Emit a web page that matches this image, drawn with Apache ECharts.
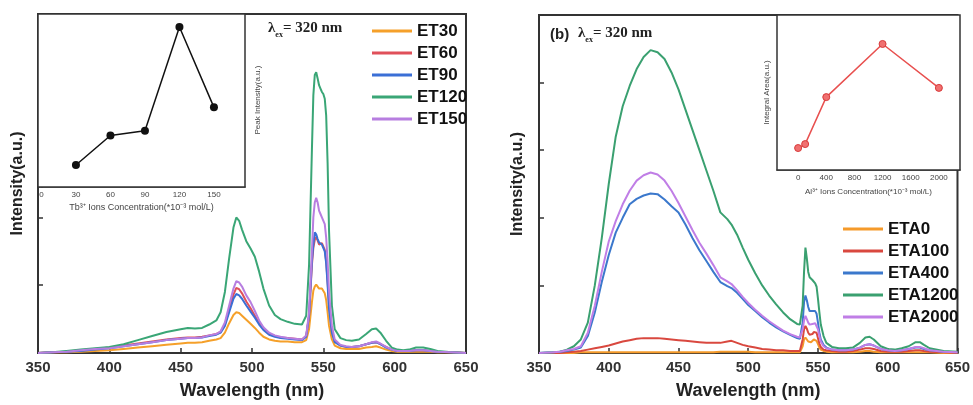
<!DOCTYPE html>
<html><head><meta charset="utf-8">
<script src="https://cdn.jsdelivr.net/npm/echarts@6/dist/echarts.min.js"></script>
<style>html,body{margin:0;padding:0;background:#fff}#c{width:973px;height:405px}</style>
</head><body><div id="c"></div>
<script>
// ---------- Panel (a) spectra ----------
const waveA = [350,360,370,380,390,400,410,420,430,440,
  450,455,460,465,470,475,478,
  481,484,487,489,491,493,496,499,502,505,508,
  512,516,520,525,530,535,538,
  540,542,543,544,545,546,547,548,549,550,551,552,553,554,556,
  558,562,566,570,575,580,584,587,590,
  594,598,602,606,610,615,620,625,630,640,650];
const et30 = [0,0.01,0.01,0.02,0.03,0.04,0.06,0.08,0.1,0.12,
  0.14,0.15,0.15,0.16,0.18,0.2,0.22,
  0.3,0.44,0.56,0.6,0.59,0.55,0.49,0.43,0.37,0.3,0.24,
  0.2,0.18,0.17,0.17,0.16,0.16,0.19,
  0.35,0.75,0.92,0.98,1.01,0.98,0.95,0.95,0.95,0.93,0.88,0.78,0.6,0.4,0.2,
  0.11,0.07,0.06,0.06,0.06,0.08,0.09,0.1,0.08,
  0.05,0.03,0.02,0.02,0.02,0.02,0.02,0.02,0.01,0.01,0];
const et60 = [0,0.01,0.02,0.04,0.06,0.08,0.11,0.14,0.17,0.2,
  0.22,0.23,0.23,0.24,0.26,0.28,0.31,
  0.42,0.64,0.86,0.96,0.94,0.88,0.76,0.66,0.55,0.44,0.35,
  0.28,0.25,0.23,0.22,0.21,0.2,0.25,
  0.55,1.3,1.55,1.67,1.71,1.66,1.6,1.62,1.62,1.6,1.52,1.35,1.05,0.7,0.32,
  0.17,0.11,0.09,0.09,0.1,0.13,0.15,0.16,0.13,
  0.09,0.05,0.03,0.03,0.03,0.04,0.04,0.03,0.02,0.01,0];
const et90 = [0,0.01,0.02,0.03,0.05,0.07,0.1,0.13,0.16,0.19,
  0.21,0.22,0.22,0.23,0.25,0.27,0.3,
  0.4,0.6,0.8,0.87,0.85,0.8,0.7,0.61,0.52,0.42,0.34,
  0.27,0.24,0.22,0.21,0.2,0.19,0.24,
  0.55,1.35,1.6,1.78,1.75,1.68,1.63,1.62,1.6,1.58,1.5,1.32,1.0,0.65,0.3,
  0.16,0.11,0.09,0.09,0.1,0.13,0.15,0.16,0.13,
  0.08,0.05,0.03,0.03,0.03,0.04,0.04,0.03,0.02,0.01,0];
const et120 = [0,0.01,0.03,0.05,0.07,0.09,0.13,0.19,0.25,0.31,
  0.35,0.37,0.36,0.37,0.42,0.48,0.6,
  0.9,1.4,1.85,2.0,1.95,1.82,1.65,1.54,1.42,1.2,0.95,
  0.7,0.56,0.5,0.46,0.43,0.42,0.55,
  1.3,3.0,3.8,4.1,4.14,4.05,3.95,3.9,3.85,3.82,3.75,3.5,2.8,1.8,0.7,
  0.35,0.22,0.19,0.18,0.2,0.28,0.35,0.36,0.3,
  0.18,0.08,0.05,0.04,0.05,0.08,0.08,0.06,0.03,0.01,0];
const et150 = [0,0.01,0.02,0.04,0.06,0.07,0.1,0.13,0.16,0.19,
  0.21,0.22,0.22,0.23,0.26,0.28,0.32,
  0.45,0.7,0.95,1.06,1.04,0.98,0.85,0.75,0.62,0.48,0.38,
  0.3,0.26,0.24,0.22,0.21,0.2,0.26,
  0.6,1.5,2.0,2.22,2.29,2.22,2.1,2.05,2.0,1.98,1.9,1.7,1.35,0.9,0.4,
  0.2,0.12,0.1,0.09,0.1,0.13,0.16,0.17,0.14,
  0.09,0.05,0.03,0.03,0.03,0.04,0.04,0.03,0.02,0.01,0];

// ---------- Panel (b) spectra ----------
const waveB = [350,360,365,370,375,380,385,390,395,400,
  405,410,415,420,425,430,435,440,445,450,
  455,460,465,470,475,480,485,488,
  492,496,500,505,510,515,520,525,530,535,537,
  539,540,541,542,543,544,545,546,547,548,549,550,551,552,
  554,556,560,565,570,575,580,584,587,590,
  595,600,605,610,615,620,623,626,630,640,650];
const eta0 = [0,0,0,0,0,0.01,0.01,0.01,0.01,0.01,
  0.01,0.01,0.01,0.01,0.01,0.01,0.01,0.01,0.01,0.01,
  0.01,0.01,0.01,0.01,0.01,0.02,0.02,0.02,
  0.02,0.02,0.02,0.01,0.01,0.01,0.01,0.01,0.01,0.01,0.01,
  0.1,0.2,0.23,0.2,0.17,0.16,0.16,0.18,0.2,0.2,0.18,0.13,0.08,0.05,
  0.03,0.02,0.01,0.01,0.01,0.01,0.02,0.03,0.03,0.02,
  0.01,0.01,0.01,0.01,0.01,0.01,0.01,0.01,0.01,0,0];
const eta100 = [0,0,0,0.01,0.02,0.03,0.05,0.07,0.09,0.11,
  0.14,0.17,0.19,0.21,0.22,0.22,0.22,0.21,0.2,0.19,
  0.18,0.17,0.16,0.15,0.15,0.15,0.17,0.18,
  0.15,0.12,0.1,0.08,0.06,0.05,0.04,0.04,0.03,0.03,0.03,
  0.2,0.35,0.4,0.36,0.3,0.27,0.26,0.28,0.31,0.32,0.3,0.22,0.14,0.09,
  0.05,0.04,0.03,0.02,0.02,0.03,0.05,0.07,0.07,0.06,
  0.03,0.02,0.02,0.02,0.03,0.04,0.04,0.03,0.02,0.01,0];
const eta400 = [0,0.01,0.02,0.03,0.05,0.08,0.25,0.6,1.05,1.45,
  1.78,2.0,2.2,2.28,2.33,2.36,2.35,2.27,2.17,2.08,
  1.9,1.7,1.52,1.36,1.2,1.05,0.99,0.96,
  0.89,0.8,0.71,0.62,0.53,0.45,0.38,0.32,0.27,0.22,0.21,
  0.45,0.75,0.85,0.78,0.68,0.62,0.6,0.62,0.63,0.62,0.58,0.45,0.3,0.2,
  0.12,0.08,0.05,0.04,0.04,0.05,0.08,0.12,0.13,0.11,
  0.06,0.04,0.03,0.04,0.06,0.08,0.08,0.06,0.04,0.02,0.01];
const eta1200 = [0,0.01,0.02,0.05,0.1,0.2,0.45,1.0,1.7,2.5,
  3.2,3.65,3.95,4.2,4.38,4.48,4.45,4.35,4.15,3.9,
  3.6,3.3,3.0,2.7,2.4,2.08,1.98,1.9,
  1.75,1.56,1.38,1.18,1.0,0.85,0.72,0.6,0.5,0.43,0.42,
  0.7,1.2,1.56,1.4,1.2,1.12,1.1,1.08,1.08,1.03,0.98,0.8,0.6,0.42,
  0.25,0.15,0.09,0.07,0.07,0.08,0.15,0.23,0.24,0.2,
  0.1,0.06,0.05,0.07,0.1,0.16,0.16,0.12,0.07,0.03,0.02];
const eta2000 = [0,0.01,0.02,0.04,0.06,0.1,0.3,0.7,1.2,1.65,
  1.95,2.2,2.4,2.55,2.63,2.67,2.64,2.55,2.4,2.22,
  2.02,1.82,1.63,1.47,1.3,1.12,1.06,1.02,
  0.93,0.83,0.74,0.64,0.55,0.47,0.4,0.33,0.28,0.24,0.23,
  0.35,0.48,0.55,0.5,0.45,0.42,0.42,0.43,0.44,0.44,0.42,0.35,0.25,0.17,
  0.1,0.07,0.05,0.04,0.04,0.05,0.08,0.12,0.13,0.11,
  0.06,0.04,0.03,0.04,0.06,0.09,0.09,0.07,0.04,0.02,0.01];

// ---------- Insets ----------
const tbConc = [30,60,90,120,150];
const tbPeak = [0.8,1.23,1.3,2.81,1.64];
const alConc = [0,100,400,1200,2000];
const alArea = [1.02,1.11,2.18,3.39,2.39];
const tbTicks = [0,30,60,90,120,150];
const alTicks = [0,400,800,1200,1600,2000];

const namesA = ['ET30','ET60','ET90','ET120','ET150'];
const namesB = ['ETA0','ETA100','ETA400','ETA1200','ETA2000'];
const colorsA = ['#f5a02a','#e0505a','#3b6fd6','#3aa676','#b77ee0'];
const colorsB = ['#f59a2a','#d9483f','#3b78cc','#3aa070','#c07ee6'];
const seriesA = [et30, et60, et90, et120, et150];
const seriesB = [eta0, eta100, eta400, eta1200, eta2000];

const pair = (xs, ys) => xs.map((x, i) => [x, ys[i]]);
const SANS = 'Liberation Sans', SERIF = 'Liberation Serif';
const axc = '#333';
const plain = v => String(v);

function mainX(gi) {
  return {
    gridIndex: gi, type: 'value', min: 350, max: 650, interval: 50,
    axisLine: {show: true, onZero: false, lineStyle: {color: axc, width: 2}},
    axisTick: {inside: true, length: 5, lineStyle: {color: axc, width: 1.5}},
    axisLabel: {fontSize: 15, fontWeight: 'bold', color: '#333', fontFamily: SANS, margin: 7, formatter: plain},
    splitLine: {show: false},
    name: 'Wavelength (nm)', nameLocation: 'middle', nameGap: 29,
    nameTextStyle: {fontSize: 18, fontWeight: 'bold', color: '#222', fontFamily: SANS}
  };
}
function mainY(gi, gap) {
  return {
    gridIndex: gi, type: 'value', min: 0, max: 5, interval: 1,
    axisLine: {show: true, lineStyle: {color: axc, width: 2}},
    axisTick: {inside: true, length: 5, lineStyle: {color: axc, width: 1.5}},
    axisLabel: {show: false}, splitLine: {show: false},
    name: 'Intensity(a.u.)', nameLocation: 'middle', nameGap: gap, nameRotate: 90,
    nameTextStyle: {fontSize: 16, fontWeight: 'bold', color: '#222', fontFamily: SANS}
  };
}

const series = [];
namesA.forEach((n, i) => series.push({
  name: n, type: 'line', xAxisIndex: 0, yAxisIndex: 0, showSymbol: false, symbol: 'none',
  data: pair(waveA, seriesA[i]), color: colorsA[i], lineStyle: {width: 2}, z: 2 + i
}));
namesB.forEach((n, i) => series.push({
  name: n, type: 'line', xAxisIndex: 2, yAxisIndex: 2, showSymbol: false, symbol: 'none',
  data: pair(waveB, seriesB[i]), color: colorsB[i], lineStyle: {width: 2}, z: 2 + i
}));
series.push({
  type: 'line', xAxisIndex: 1, yAxisIndex: 1, data: pair(tbConc, tbPeak),
  color: '#111', lineStyle: {width: 1.5, color: '#111'}, symbol: 'circle', symbolSize: 8,
  itemStyle: {color: '#111'}, z: 10
});
series.push({
  type: 'line', xAxisIndex: 3, yAxisIndex: 3, data: pair(alConc, alArea),
  color: '#e8504f', lineStyle: {width: 1.5, color: '#e8504f'}, symbol: 'circle', symbolSize: 7,
  itemStyle: {color: '#f07070', borderColor: '#d83a3a', borderWidth: 1}, z: 10
});

const legendBase = {
  orient: 'vertical', icon: 'rect', itemWidth: 40, itemHeight: 3, itemGap: 4,
  textStyle: {fontSize: 17, fontWeight: 'bold', color: '#111', fontFamily: SANS, lineHeight: 18},
  selectedMode: false
};

const option = {
  animation: false,
  backgroundColor: '#fff',
  grid: [
    {left: 38, top: 14, width: 428, height: 344, show: true, borderColor: axc, borderWidth: 2, backgroundColor: 'transparent'},
    {left: 38, top: 14, width: 207, height: 173, show: true, borderColor: axc, borderWidth: 1.5, backgroundColor: '#fff', z: 5},
    {left: 539, top: 15, width: 421, height: 339, show: true, borderColor: axc, borderWidth: 2, backgroundColor: 'transparent'},
    {left: 777, top: 15, width: 183, height: 155, show: true, borderColor: axc, borderWidth: 1.5, backgroundColor: '#fff', z: 5}
  ],
  xAxis: [
    mainX(0),
    {gridIndex: 1, type: 'value', min: -3, max: 177,
      axisLine: {show: true, onZero: false, lineStyle: {color: axc, width: 1.5}},
      axisTick: {inside: true, length: 3, customValues: tbTicks, lineStyle: {color: axc}},
      axisLabel: {fontSize: 8, color: '#444', fontFamily: SANS, margin: 4, customValues: tbTicks, formatter: plain},
      splitLine: {show: false},
      name: 'Tb³⁺ Ions Concentration(*10⁻³ mol/L)', nameLocation: 'middle', nameGap: 16,
      nameTextStyle: {fontSize: 9, color: '#444', fontFamily: SANS}},
    mainX(2),
    {gridIndex: 3, type: 'value', min: -300, max: 2300,
      axisLine: {show: true, onZero: false, lineStyle: {color: axc, width: 1.5}},
      axisTick: {inside: true, length: 3, customValues: alTicks, lineStyle: {color: axc}},
      axisLabel: {fontSize: 8, color: '#444', fontFamily: SANS, margin: 4, customValues: alTicks, formatter: plain},
      splitLine: {show: false},
      name: 'Al³⁺ Ions Concentration(*10⁻³ mol/L)', nameLocation: 'middle', nameGap: 18,
      nameTextStyle: {fontSize: 8, color: '#444', fontFamily: SANS}}
  ],
  yAxis: [
    mainY(0, 12),
    {gridIndex: 1, type: 'value', min: 0.48, max: 3.0,
      axisLine: {show: true, lineStyle: {color: axc, width: 1.5}},
      axisTick: {inside: true, length: 3, customValues: [1, 2, 3], lineStyle: {color: axc}},
      axisLabel: {show: false}, splitLine: {show: false}},
    mainY(2, 13),
    {gridIndex: 3, type: 'value', min: 0.52, max: 4.05,
      axisLine: {show: true, lineStyle: {color: axc, width: 1.5}},
      axisTick: {inside: true, length: 3, customValues: [1, 2, 3, 4], lineStyle: {color: axc}},
      axisLabel: {show: false}, splitLine: {show: false},
      name: 'Integral Area(a.u.)', nameLocation: 'middle', nameGap: 6, nameRotate: 90,
      nameTextStyle: {fontSize: 8, color: '#444', fontFamily: SANS}}
  ],
  legend: [
    Object.assign({}, legendBase, {left: 367, top: 17, data: namesA}),
    Object.assign({}, legendBase, {left: 838, top: 215, data: namesB})
  ],
  graphic: [
    {type: 'text', left: 43, top: 24, style: {text: '(a)', font: 'bold 15px "Liberation Sans"', fill: '#222'}},
    {type: 'text', left: 268, top: 21, style: {
      text: '{l|λ}{s|ex}{l|= 320 nm}', fill: '#222',
      rich: {l: {fontSize: 15, fontWeight: 'bold', fontFamily: SERIF, lineHeight: 18, verticalAlign: 'bottom'},
             s: {fontSize: 8, fontWeight: 'bold', fontFamily: SERIF, lineHeight: 18, verticalAlign: 'bottom', padding: [0, 0, -3, 0]}}}},
    {type: 'text', x: 258, y: 100, rotation: Math.PI / 2, style: {
      text: 'Peak Intensity(a.u.)', font: '8px "Liberation Sans"', fill: '#444', align: 'center', verticalAlign: 'middle'}},
    {type: 'text', left: 550, top: 27, style: {text: '(b)', font: 'bold 15px "Liberation Sans"', fill: '#222'}},
    {type: 'text', left: 578, top: 26, style: {
      text: '{l|λ}{s|ex}{l|= 320 nm}', fill: '#222',
      rich: {l: {fontSize: 15, fontWeight: 'bold', fontFamily: SERIF, lineHeight: 18, verticalAlign: 'bottom'},
             s: {fontSize: 8, fontWeight: 'bold', fontFamily: SERIF, lineHeight: 18, verticalAlign: 'bottom', padding: [0, 0, -3, 0]}}}}
  ],
  series: series
};

const chart = echarts.init(document.getElementById('c'), null, {renderer: 'canvas'});
chart.setOption(option);
</script>
</body></html>
